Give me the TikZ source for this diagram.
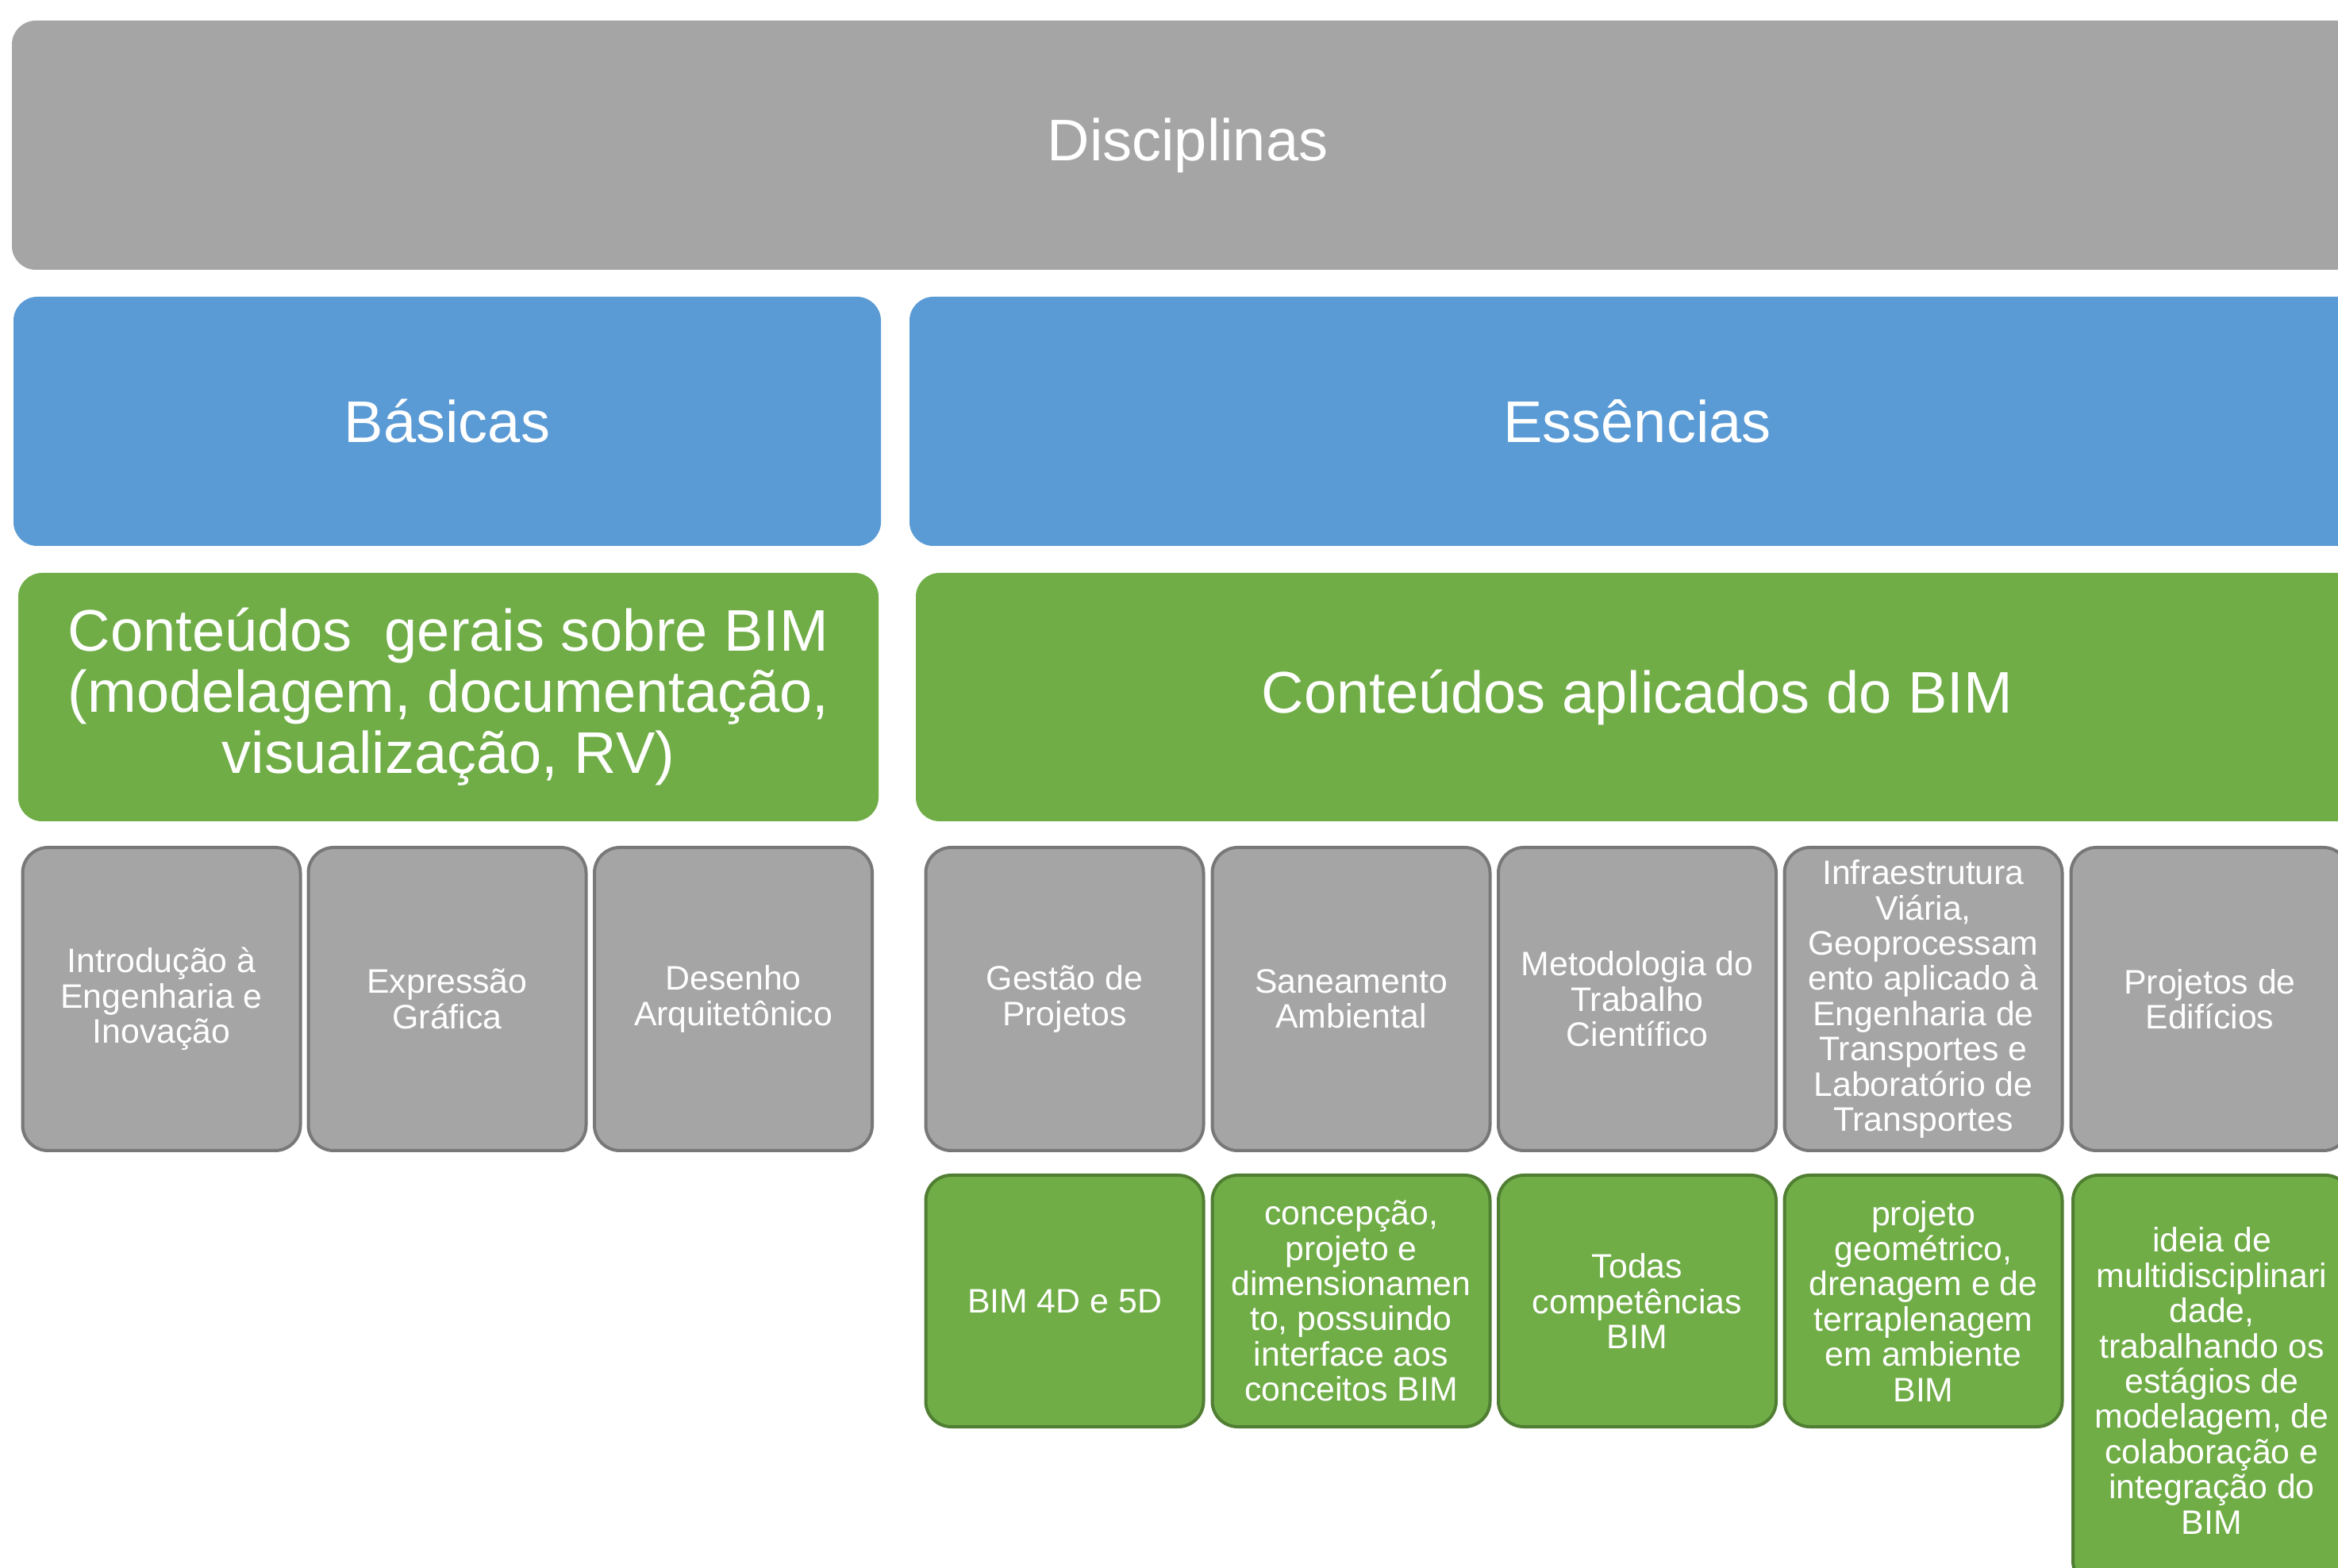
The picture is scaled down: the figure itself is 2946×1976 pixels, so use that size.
\documentclass[tikz,border=0pt]{standalone}
\usepackage{fontspec}
\setmainfont{Liberation Sans}

\definecolor{boxgray}{HTML}{A5A5A5}
\definecolor{edgegray}{HTML}{787878}
\definecolor{boxblue}{HTML}{5B9BD5}
\definecolor{boxgreen}{HTML}{70AD47}
\definecolor{edgegreen}{HTML}{507E32}

\tikzset{every picture/.style={line width=1pt},
  bigbox/.style={rounded corners=7.5pt, text=white, align=center, inner sep=0pt,
    minimum height=78.5pt, font=\fontsize{18.5}{19.25}\selectfont},
  smallbox/.style={rounded corners=8pt, draw, text=white, align=center, inner sep=0pt,
    minimum width=87.5pt, font=\fontsize{10.7}{11.1}\selectfont},
  grayitem/.style={smallbox, fill=boxgray, draw=edgegray, minimum height=95.5pt},
  greenitem/.style={smallbox, fill=boxgreen, draw=edgegreen, minimum height=79.25pt}}

\begin{document}
\begin{tikzpicture}[x=0.25pt,y=0.25pt,yscale=-1,xscale=1]
\useasboundingbox (0,0) rectangle (2946,1976);
\clip (0,0) rectangle (2946,1976);

%Top bar
\node[bigbox, fill=boxgray, minimum width=740.75pt] (disc) at (1496.5,183) {Disciplinas};

%Second row
\node[bigbox, fill=boxblue, minimum width=273.25pt] (basicas) at (563.5,531) {Básicas};
\node[bigbox, fill=boxblue, minimum width=458.5pt] (essencias) at (2063,531) {Essências};

%Third row
\node[bigbox, fill=boxgreen, minimum width=271pt, minimum height=78.25pt] (gerais) at (565,878.5)
  {Conteúdos\ \ gerais sobre BIM\\(modelagem, documentação,\\visualização, RV)};
\node[bigbox, fill=boxgreen, minimum width=454.5pt, minimum height=78.25pt] (aplicados) at (2063,878.5)
  {Conteúdos aplicados do BIM};

%Disciplines
\node[grayitem] (intro) at (203.5,1259) {Introdução à\\Engenharia e\\Inovação};
\node[grayitem] (expressao) at (563.5,1259) {Expressão\\Gráfica};
\node[grayitem] (desenho) at (924,1259) {Desenho\\Arquitetônico};
\node[grayitem] (gestao) at (1341.5,1259) {Gestão de\\Projetos};
\node[grayitem] (saneamento) at (1702.5,1259) {Saneamento\\Ambiental};
\node[grayitem] (metodologia) at (2063,1259) {Metodologia do\\Trabalho\\Científico};
\node[grayitem] (infra) at (2423.5,1259) {Infraestrutura\\Viária,\\Geoprocessam\\ento aplicado à\\Engenharia de\\Transportes e\\Laboratório de\\Transportes};
\node[grayitem] (edificios) at (2784.5,1259) {Projetos de\\Edifícios};

%Applied contents
\node[greenitem] (bim45) at (1341.5,1639.5) {BIM 4D e 5D};
\node[greenitem] (concepcao) at (1702.5,1639.5) {concepção,\\projeto e\\dimensionamen\\to, possuindo\\interface aos\\conceitos BIM};
\node[greenitem] (todas) at (2063,1639.5) {Todas\\competências\\BIM};
\node[greenitem] (geometrico) at (2423.5,1639.5) {projeto\\geométrico,\\drenagem e de\\terraplenagem\\em ambiente\\BIM};
\node[greenitem, minimum height=129.5pt] (ideia) at (2787,1740) {ideia de\\multidisciplinari\\dade,\\trabalhando os\\estágios de\\modelagem, de\\colaboração e\\integração do\\BIM};

\end{tikzpicture}
\end{document}
